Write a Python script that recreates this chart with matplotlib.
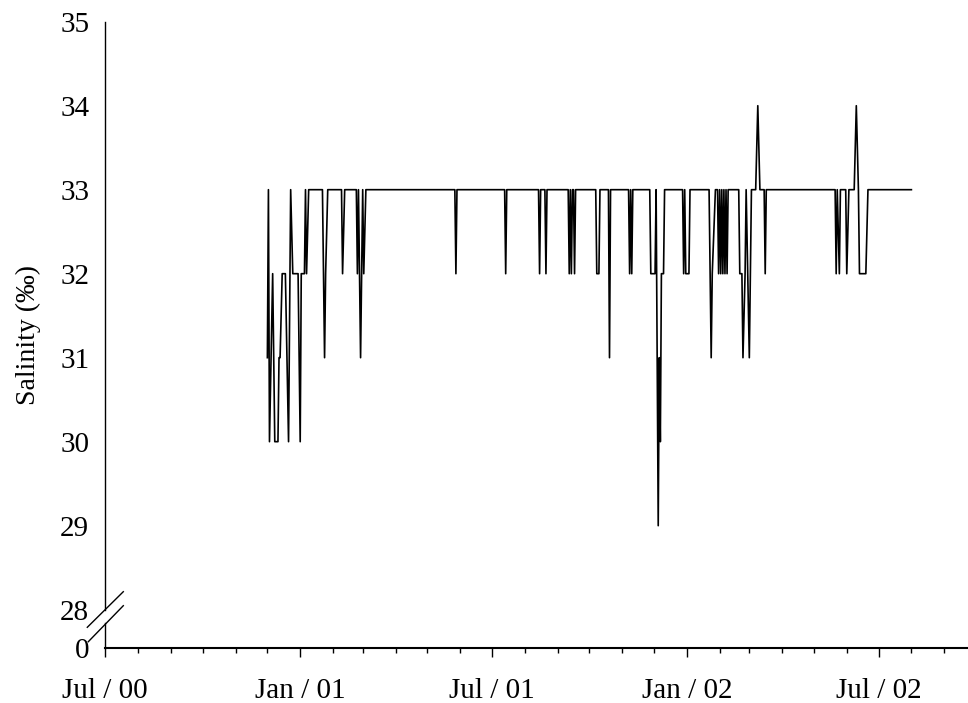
import matplotlib
matplotlib.use('Agg')
import matplotlib.pyplot as plt
import matplotlib.dates as mdates
from matplotlib.lines import Line2D
import pandas as pd

plt.rcParams['font.family'] = ['Liberation Serif', 'DejaVu Serif']

# Salinity readings (only the days where the curve changes)
dates = [
    '2000-12-01', '2000-12-02', '2000-12-03', '2000-12-06', '2000-12-08', '2000-12-11',
    '2000-12-12', '2000-12-13', '2000-12-15', '2000-12-18', '2000-12-21', '2000-12-23',
    '2000-12-25', '2000-12-30', '2001-01-01', '2001-01-02', '2001-01-05', '2001-01-06',
    '2001-01-07', '2001-01-09', '2001-01-22', '2001-01-24', '2001-01-25', '2001-01-27',
    '2001-02-09', '2001-02-10', '2001-02-12', '2001-02-23', '2001-02-24', '2001-02-25',
    '2001-02-27', '2001-03-01', '2001-03-02', '2001-03-04',
    '2001-05-27', '2001-05-28', '2001-05-29',
    '2001-07-13', '2001-07-14', '2001-07-15',
    '2001-08-14', '2001-08-15', '2001-08-16',
    '2001-08-20', '2001-08-21', '2001-08-22',
    '2001-09-11', '2001-09-12', '2001-09-13', '2001-09-14', '2001-09-15',
    '2001-09-16', '2001-09-17', '2001-09-18',
    '2001-10-07', '2001-10-08', '2001-10-10', '2001-10-11',
    '2001-10-19', '2001-10-20', '2001-10-21',
    '2001-11-07', '2001-11-08', '2001-11-09', '2001-11-10', '2001-11-11',
    '2001-11-27', '2001-11-28', '2001-12-02', '2001-12-03', '2001-12-05', '2001-12-06',
    '2001-12-07', '2001-12-08', '2001-12-10', '2001-12-11',
    '2001-12-28', '2001-12-29', '2001-12-30', '2001-12-31', '2002-01-03', '2002-01-04',
    '2002-01-22', '2002-01-23', '2002-01-24', '2002-01-25', '2002-01-28', '2002-01-30',
    '2002-01-31', '2002-02-01', '2002-02-02', '2002-02-03', '2002-02-04', '2002-02-05',
    '2002-02-06', '2002-02-07', '2002-02-08', '2002-02-09',
    '2002-02-19', '2002-02-20', '2002-02-22', '2002-02-23', '2002-02-25', '2002-02-26',
    '2002-03-01', '2002-03-03', '2002-03-07', '2002-03-09', '2002-03-11',
    '2002-03-15', '2002-03-16', '2002-03-17',
    '2002-05-21', '2002-05-22', '2002-05-23', '2002-05-25', '2002-05-26',
    '2002-05-31', '2002-06-01', '2002-06-03',
    '2002-06-08', '2002-06-10', '2002-06-12', '2002-06-13', '2002-06-19', '2002-06-21',
    '2002-08-01',
]
salinity = [
    31, 33, 30, 32, 30, 30,
    31, 31, 32, 32, 30, 33,
    32, 32, 30, 32, 32, 33,
    32, 33, 33, 31, 32, 33,
    33, 32, 33, 33, 32, 33,
    31, 33, 32, 33,
    33, 32, 33,
    33, 32, 33,
    33, 32, 33,
    33, 32, 33,
    33, 32, 33, 32, 33,
    33, 32, 33,
    33, 32, 32, 33,
    33, 31, 33,
    33, 32, 33, 32, 33,
    33, 32, 32, 33, 29, 31,
    30, 32, 32, 33,
    33, 32, 33, 32, 32, 33,
    33, 32, 31, 32, 33, 33,
    32, 33, 32, 33, 32, 33,
    32, 33, 32, 33,
    33, 32, 32, 31, 32, 33,
    31, 33, 33, 34, 33,
    33, 32, 33,
    33, 32, 33, 32, 33,
    33, 32, 33,
    33, 34, 33, 32, 32, 33,
    33,
]

y_ticks = [27.54, 28, 29, 30, 31, 32, 33, 34, 35]
y_labels = ['0', '28', '29', '30', '31', '32', '33', '34', '35']

W, H = 968, 703
fig = plt.figure(figsize=(W / 100, H / 100), dpi=100)
x0, x1 = 105.3, 976.0
y_top, y_bot = 21.7, 648.3
ax = fig.add_axes([x0 / W, 1 - y_bot / H, (x1 - x0) / W, (y_bot - y_top) / H])

ax.plot(pd.to_datetime(dates), salinity, color='black', lw=1.2)

ax.set_xlim(pd.Timestamp('2000-07-01'), pd.Timestamp('2002-10-01'))
ax.set_ylim(27.54, 35)

ax.xaxis.set_major_locator(mdates.MonthLocator(bymonth=[1, 7]))
ax.xaxis.set_major_formatter(mdates.DateFormatter('%b / %y'))
ax.xaxis.set_minor_locator(mdates.MonthLocator())
ax.tick_params(axis='x', which='major', length=6.5, width=1, pad=15,
               labelsize=21, direction='out')
ax.tick_params(axis='x', which='minor', length=3.6, width=1, direction='out')

ax.set_yticks(y_ticks, y_labels)
ax.tick_params(axis='y', length=0, pad=11.5, labelsize=21)
ax.set_ylabel('Salinity (‰)', fontsize=20, labelpad=14)

for s in ['top', 'right', 'left']:
    ax.spines[s].set_visible(False)
ax.spines['bottom'].set_linewidth(1.5)

# broken y axis
yt = ax.get_yaxis_transform()
ax.plot([0, 0], [28.0, 35], transform=yt, clip_on=False, color='black', lw=1.0)
ax.plot([0, 0], [27.54, 27.84], transform=yt, clip_on=False, color='black', lw=1.0)
for (ax_, ay_), (bx_, by_) in [((87.3, 627.3), (123.3, 591.7)),
                               ((88.3, 641.7), (123.3, 605.7))]:
    fig.add_artist(Line2D([ax_ / W, bx_ / W], [1 - ay_ / H, 1 - by_ / H],
                          transform=fig.transFigure, color='black', lw=1.0))

fig.savefig('out.png', dpi=100)
